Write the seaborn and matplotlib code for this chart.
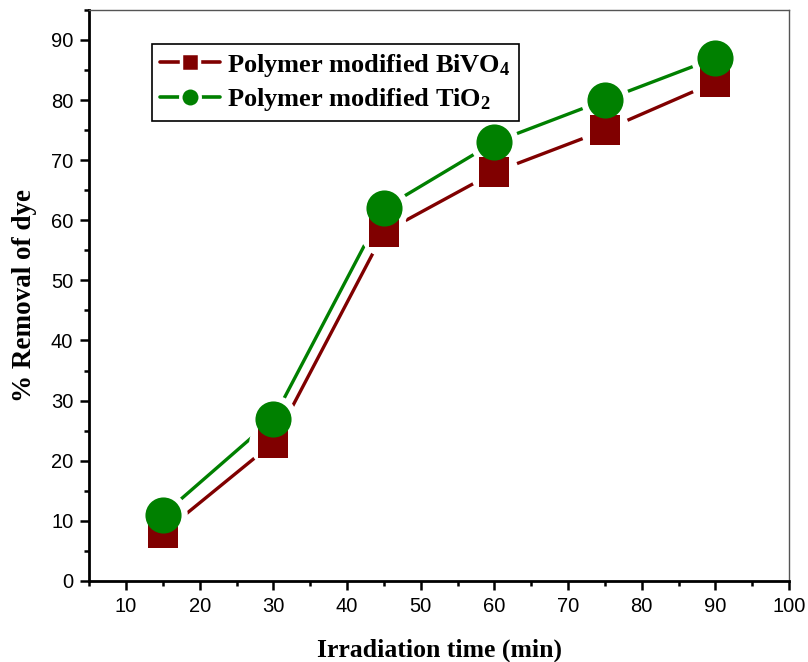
import matplotlib
matplotlib.use("Agg")
import matplotlib.pyplot as plt
from matplotlib.lines import Line2D
from matplotlib.ticker import MultipleLocator
import seaborn as sns
import pandas as pd

time_min = [15, 30, 45, 60, 75, 90]
bivo4 = [8, 23, 58, 68, 75, 83]
tio2 = [11, 27, 62, 73, 80, 87]
labels = ["Polymer modified BiVO$_4$", "Polymer modified TiO$_2$"]
colors = ["#800000", "#008000"]

df = pd.DataFrame({
    "time": time_min * 2,
    "removal": bivo4 + tio2,
    "series": [labels[0]] * len(time_min) + [labels[1]] * len(time_min),
})

sns.set_style("ticks")
plt.rcParams["font.family"] = ["Liberation Sans", "DejaVu Sans"]
plt.rcParams["text.color"] = "black"
plt.rcParams["axes.labelcolor"] = "black"
plt.rcParams["xtick.color"] = "black"
plt.rcParams["ytick.color"] = "black"
plt.rcParams["mathtext.fontset"] = "custom"
plt.rcParams["mathtext.rm"] = "Liberation Serif:bold"
plt.rcParams["mathtext.it"] = "Liberation Serif:bold"
plt.rcParams["mathtext.bf"] = "Liberation Serif:bold"

fig = plt.figure(figsize=(8.08, 6.62), dpi=100)
ax = fig.add_axes([0.1105, 0.1225, 0.866, 0.8625])

palette = dict(zip(labels, colors))
sns.lineplot(data=df, x="time", y="removal", hue="series", palette=palette,
             linewidth=2.4, legend=False, ax=ax, zorder=2)
# white halos to create the gaps around markers
sns.scatterplot(data=df, x="time", y="removal", color="white", s=35**2,
                marker="o", linewidth=0, legend=False, ax=ax, zorder=3)
d1 = df[df.series == labels[0]]
d2 = df[df.series == labels[1]]
sns.scatterplot(data=d1, x="time", y="removal", color=colors[0], marker="s",
                s=22**2, linewidth=0, legend=False, ax=ax, zorder=4)
sns.scatterplot(data=d2, x="time", y="removal", color=colors[1], marker="o",
                s=26**2, linewidth=0, legend=False, ax=ax, zorder=5)

ax.set_xlim(5, 100)
ax.set_ylim(0, 95)
ax.xaxis.set_major_locator(MultipleLocator(10))
ax.xaxis.set_minor_locator(MultipleLocator(5))
ax.yaxis.set_major_locator(MultipleLocator(10))
ax.yaxis.set_minor_locator(MultipleLocator(5))
ax.tick_params(which="major", direction="out", length=6.5, width=1.8,
               labelsize=14.5, pad=5)
ax.tick_params(which="minor", direction="out", length=3.6, width=1.8)
ax.tick_params(top=False, right=False, which="both")

for s in ["left", "bottom"]:
    ax.spines[s].set_linewidth(2)
    ax.spines[s].set_color("black")
for s in ["top", "right"]:
    ax.spines[s].set_linewidth(1)
    ax.spines[s].set_color("#555555")
    ax.spines[s].set_visible(True)

ax.set_xlabel("Irradiation time (min)", fontfamily="Liberation Serif",
              fontweight="bold", fontsize=18.5, labelpad=16)
ax.set_ylabel("% Removal of dye", fontfamily="Liberation Serif",
              fontweight="bold", fontsize=19.5, labelpad=10)

handles = [
    Line2D([], [], color=colors[0], lw=2.6, marker="s", markersize=13,
           markeredgecolor="white", markeredgewidth=2.5),
    Line2D([], [], color=colors[1], lw=2.6, marker="o", markersize=14,
           markeredgecolor="white", markeredgewidth=2.5),
]
leg = ax.legend(handles, labels, loc="upper left", bbox_to_anchor=(0.09, 0.941),
                prop={"family": "Liberation Serif", "weight": "bold", "size": 19},
                frameon=True, fancybox=False, edgecolor="black", framealpha=1,
                handlelength=2.25, handletextpad=0.3, borderpad=0.3,
                labelspacing=0.3, borderaxespad=0)
leg.get_frame().set_linewidth(1.2)

fig.savefig("out.png", dpi=100)
